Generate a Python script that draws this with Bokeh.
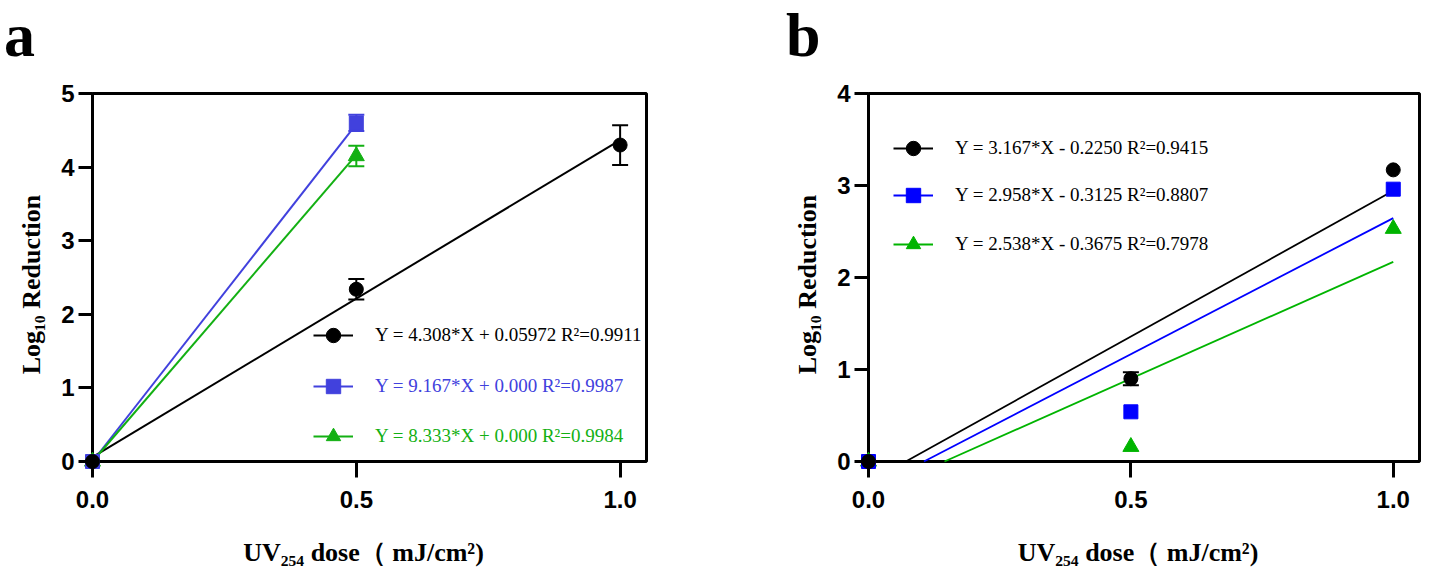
from bokeh.plotting import figure
from bokeh.models import (Range1d, FixedTicker, NumeralTickFormatter, BoxAnnotation,
                          Legend, LegendItem, Whisker, ColumnDataSource, TeeHead, Div)
from bokeh.layouts import row, column
from bokeh.embed import file_html
from bokeh.resources import INLINE

# ---------------- data ----------------
x_ticks = [0.0, 0.5, 1.0]
X_MAX = 1.05

# panel a
a_dose_black = [0.0, 0.5, 1.0]
a_black = [0.0, 2.34, 4.30]
a_black_err = [0.0, 0.14, 0.27]
a_dose_blue = [0.0, 0.5]
a_blue = [0.0, 4.60]
a_blue_err = [0.0, 0.11]
a_dose_green = [0.0, 0.5]
a_green = [0.0, 4.15]
a_green_err = [0.0, 0.14]
a_slopes = [4.308, 9.167, 8.333]
a_intercepts = [0.05972, 0.0, 0.0]
a_labels = ["Y = 4.308*X + 0.05972 R²=0.9911",
            "Y = 9.167*X + 0.000 R²=0.9987",
            "Y = 8.333*X + 0.000 R²=0.9984"]
a_y_ticks = [0, 1, 2, 3, 4, 5]
A_Y_MAX = 5

# panel b
b_dose = [0.0, 0.5, 1.0]
b_black = [0.0, 0.90, 3.17]
b_black_err = [0.0, 0.07, 0.0]
b_blue = [0.0, 0.54, 2.96]
b_blue_err = [0.0, 0.0, 0.0]
b_green = [0.0, 0.16, 2.53]
b_green_err = [0.0, 0.0, 0.0]
b_slopes = [3.167, 2.958, 2.538]
b_intercepts = [-0.2250, -0.3125, -0.3675]
b_labels = ["Y = 3.167*X - 0.2250 R²=0.9415",
            "Y = 2.958*X - 0.3125 R²=0.8807",
            "Y = 2.538*X - 0.3675 R²=0.7978"]
b_y_ticks = [0, 1, 2, 3, 4]
B_Y_MAX = 4

X_LABEL = "UV₂₅₄ dose（ mJ/cm²)"
Y_LABEL = "Log₁₀ Reduction"

HEAD_H = 70
FIG_H = 500
B_TOP, B_BOTTOM = 21, 93
PAD_L, PAD_B, PAD_R, PAD_T = 14, 16, 2, 2


def panel(series, y_max, y_ticks, width, border_left, border_right,
          legend_pos, text_colors, lw):
    frame_w = width - border_left - border_right
    frame_h = FIG_H - B_TOP - B_BOTTOM
    xu = (frame_w - PAD_L - PAD_R) / X_MAX
    yu = (frame_h - PAD_B - PAD_T) / y_max
    p = figure(width=width, height=FIG_H,
               x_range=Range1d(-PAD_L / xu, X_MAX + PAD_R / xu),
               y_range=Range1d(-PAD_B / yu, y_max + PAD_T / yu),
               output_backend="svg", toolbar_location=None,
               min_border_left=border_left, min_border_right=border_right,
               min_border_top=B_TOP, min_border_bottom=B_BOTTOM)
    p.outline_line_color = None
    p.grid.visible = False
    p.background_fill_color = "white"
    p.border_fill_color = "white"

    box = BoxAnnotation(left=0, right=X_MAX, bottom=0, top=y_max,
                        fill_color=None, fill_alpha=0, line_color="black",
                        line_alpha=1.0, line_width=3, level="underlay")
    p.add_layout(box)

    for ax in (p.xaxis, p.yaxis):
        ax.axis_line_color = None
        ax.major_tick_out = 0
        ax.minor_tick_line_color = None
        ax.major_tick_line_width = 3
        ax.major_tick_line_color = "black"
        ax.major_label_text_font = "Liberation Sans"
        ax.major_label_text_font_style = "bold"
        ax.major_label_text_font_size = "24px"
        ax.major_label_text_color = "black"
        ax.axis_label_text_font = "Liberation Serif"
        ax.axis_label_text_font_style = "bold"
        ax.axis_label_text_font_size = "26px"
        ax.axis_label_text_color = "black"
    p.xaxis.major_tick_in = PAD_B
    p.yaxis.major_tick_in = PAD_L
    p.xaxis.ticker = FixedTicker(ticks=x_ticks)
    p.xaxis.formatter = NumeralTickFormatter(format="0.0")
    p.yaxis.ticker = FixedTicker(ticks=y_ticks)
    p.xaxis.major_label_standoff = 13
    p.yaxis.major_label_standoff = 4
    p.xaxis.axis_label = X_LABEL
    p.yaxis.axis_label = Y_LABEL
    p.xaxis.axis_label_standoff = 27
    p.yaxis.axis_label_standoff = 12

    line_rs, mark_rs = [], []
    for s in series:
        x0 = max(0.0, -s["b"] / s["m"]) if s["b"] < 0 else 0.0
        x1 = max(s["x"])
        lr = p.line([x0, x1], [s["m"] * x0 + s["b"], s["m"] * x1 + s["b"]],
                    line_color=s["color"], line_width=lw)
        line_rs.append(lr)
    for s in reversed(series):
        xs = [x for x, e in zip(s["x"], s["e"]) if e > 0]
        if xs:
            ys = [y for y, e in zip(s["y"], s["e"]) if e > 0]
            es = [e for e in s["e"] if e > 0]
            src = ColumnDataSource(dict(base=xs, lower=[y - e for y, e in zip(ys, es)],
                                        upper=[y + e for y, e in zip(ys, es)]))
            w = Whisker(source=src, base="base", lower="lower", upper="upper",
                        line_color=s["color"], line_width=2,
                        upper_head=TeeHead(size=16, line_color=s["color"], line_width=2),
                        lower_head=TeeHead(size=16, line_color=s["color"], line_width=2))
            p.add_layout(w)
    for s in reversed(series):
        mr = p.scatter(s["x"], s["y"], marker=s["marker"], size=s["size"],
                       fill_color=s["color"], line_color=s["color"])
        mark_rs.append(mr)
    mark_rs = list(reversed(mark_rs))

    for i, s in enumerate(series):
        leg = Legend(items=[LegendItem(label=s["label"], renderers=[line_rs[i], mark_rs[i]])],
                     location=legend_pos[i], padding=0, margin=0, spacing=0,
                     border_line_color=None, background_fill_alpha=0,
                     glyph_width=40, glyph_height=36, label_height=36,
                     label_standoff=22, label_text_font="Liberation Serif",
                     label_text_font_size="19px", label_text_color=text_colors[i])
        p.add_layout(leg)
    return p


def letter_div(letter, width, pad_left):
    return Div(text=letter, width=width, height=HEAD_H, margin=(0, 0, 0, 0),
               styles={"font-family": "'Liberation Serif', 'Times New Roman', serif",
                       "font-weight": "bold", "font-size": "62px",
                       "line-height": f"{HEAD_H}px",
                       "color": "black", "padding-left": f"{pad_left}px"})


BLACK = "#000000"
A_BLUE = "#4141dd"
A_GREEN = "#13b013"
B_BLUE = "#0000ff"
B_GREEN = "#00b400"

series_a = [
    dict(x=a_dose_black, y=a_black, e=a_black_err, m=a_slopes[0], b=a_intercepts[0],
         label=a_labels[0], color=BLACK, marker="circle", size=14),
    dict(x=a_dose_blue, y=a_blue, e=a_blue_err, m=a_slopes[1], b=a_intercepts[1],
         label=a_labels[1], color=A_BLUE, marker="square", size=14),
    dict(x=a_dose_green, y=a_green, e=a_green_err, m=a_slopes[2], b=a_intercepts[2],
         label=a_labels[2], color=A_GREEN, marker="triangle", size=16),
]
series_b = [
    dict(x=b_dose, y=b_black, e=b_black_err, m=b_slopes[0], b=b_intercepts[0],
         label=b_labels[0], color=BLACK, marker="circle", size=14),
    dict(x=b_dose, y=b_blue, e=b_blue_err, m=b_slopes[1], b=b_intercepts[1],
         label=b_labels[1], color=B_BLUE, marker="square", size=14),
    dict(x=b_dose, y=b_green, e=b_green_err, m=b_slopes[2], b=b_intercepts[2],
         label=b_labels[2], color=B_GREEN, marker="triangle", size=16),
]

pa = panel(series_a, A_Y_MAX, a_y_ticks, 784, 78, 136,
           [(235, 124), (235, 73), (235, 23)], [BLACK, A_BLUE, A_GREEN], 2)
pb = panel(series_b, B_Y_MAX, b_y_ticks, 640, 70, 3,
           [(39, 311), (39, 264), (39, 215)], [BLACK, BLACK, BLACK], 1.8)

layout = column(row(letter_div("a", 784, 4), letter_div("b", 640, 2)),
                row(pa, pb))
open("out.html", "w").write(file_html(layout, INLINE))
